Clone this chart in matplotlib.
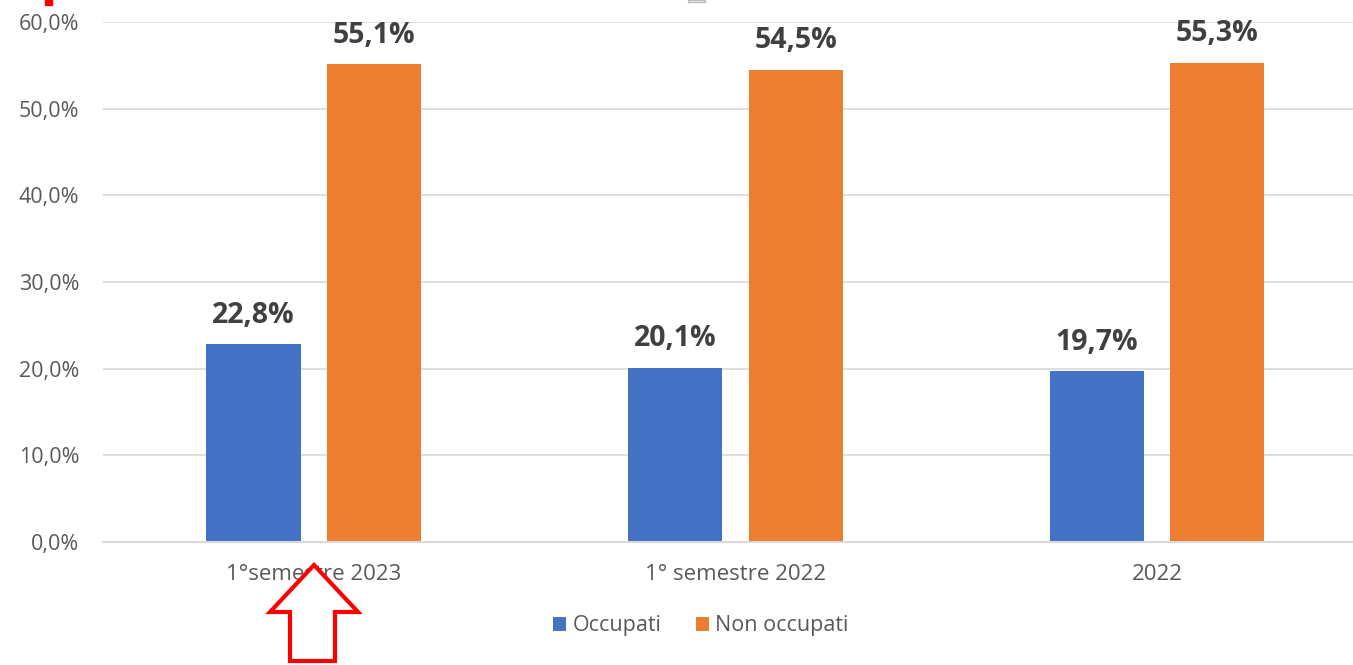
import numpy as np
import matplotlib.pyplot as plt
from matplotlib.patches import Polygon, Rectangle
from matplotlib.ticker import FuncFormatter

categories = ["1°semestre 2023", "1° semestre 2022", "2022"]
occupati = [22.8, 20.1, 19.7]
non_occupati = [55.1, 54.5, 55.3]
series_names = ["Occupati", "Non occupati"]
y_ticks = [0, 10, 20, 30, 40, 50, 60]

BLUE = "#4472C4"
ORANGE = "#ED7D31"
GRID = "#D9D9D9"
TICK_COLOR = "#595959"
LABEL_COLOR = "#404040"

plt.rcParams["font.family"] = ["Open Sans", "DejaVu Sans"]

W, H = 1353, 665
fig = plt.figure(figsize=(W / 100, H / 100), dpi=100)
ax = fig.add_axes([103 / W, (H - 542) / H, (W - 103) / W, 520 / H])

x = np.arange(len(categories))
width = 0.223
offset = 0.143
bars_occ = ax.bar(x - offset, occupati, width, color=BLUE, label=series_names[0], zorder=3)
bars_non = ax.bar(x + offset, non_occupati, width, color=ORANGE, label=series_names[1], zorder=3)

for bars in (bars_occ, bars_non):
    for b in bars:
        ax.annotate(
            f"{b.get_height():.1f}%".replace(".", ","),
            xy=(b.get_x() + b.get_width() / 2, b.get_height()),
            xytext=(0, 21),
            textcoords="offset points",
            ha="center",
            va="center",
            fontsize=20.5,
            fontweight="bold",
            color=LABEL_COLOR,
        )

ax.set_xlim(-0.5, 2.465)
ax.set_ylim(0, 60)
ax.set_yticks(y_ticks)
ax.yaxis.set_major_formatter(FuncFormatter(lambda v, _: f"{v:.1f}%".replace(".", ",")))
ax.set_xticks(x)
ax.set_xticklabels(categories)
ax.tick_params(axis="y", length=0, pad=17, labelsize=15.5, labelcolor=TICK_COLOR)
ax.tick_params(axis="x", length=0, pad=16, labelsize=16, labelcolor=TICK_COLOR)

ax.grid(axis="y", color=GRID, linewidth=1.2, zorder=0)
for side in ("top", "right", "left"):
    ax.spines[side].set_visible(False)
ax.spines["bottom"].set_color(GRID)
ax.spines["bottom"].set_linewidth(1.5)
ax.spines["bottom"].set_zorder(4)

fig.legend(
    handles=[bars_occ, bars_non],
    labels=series_names,
    loc="center",
    bbox_to_anchor=(701 / W, 1 - 626 / H),
    ncol=2,
    frameon=False,
    fontsize=15.5,
    labelcolor=TICK_COLOR,
    handlelength=0.6,
    handleheight=0.6,
    handletextpad=0.3,
    columnspacing=1.6,
)

# red outline arrow pointing at the first category
arrow_px = [(314, 565), (358, 612), (335, 612), (335, 661), (290, 661), (290, 612), (270, 612)]
arrow = Polygon(
    [(px / W, 1 - py / H) for px, py in arrow_px],
    closed=True,
    facecolor="white",
    edgecolor="#FF0000",
    linewidth=3,
    transform=fig.transFigure,
    zorder=10,
)
fig.add_artist(arrow)

# small leftover marks at the top edge
fig.add_artist(Rectangle((45 / W, 1 - 5 / H), 7 / W, 5 / H, color="#FF0000", transform=fig.transFigure))
fig.add_artist(Rectangle((688 / W, 1 - 2 / H), 17 / W, 2 / H, facecolor="white", edgecolor="#BBBBBB",
                         linewidth=1, transform=fig.transFigure))

fig.savefig("out.png", dpi=100)
